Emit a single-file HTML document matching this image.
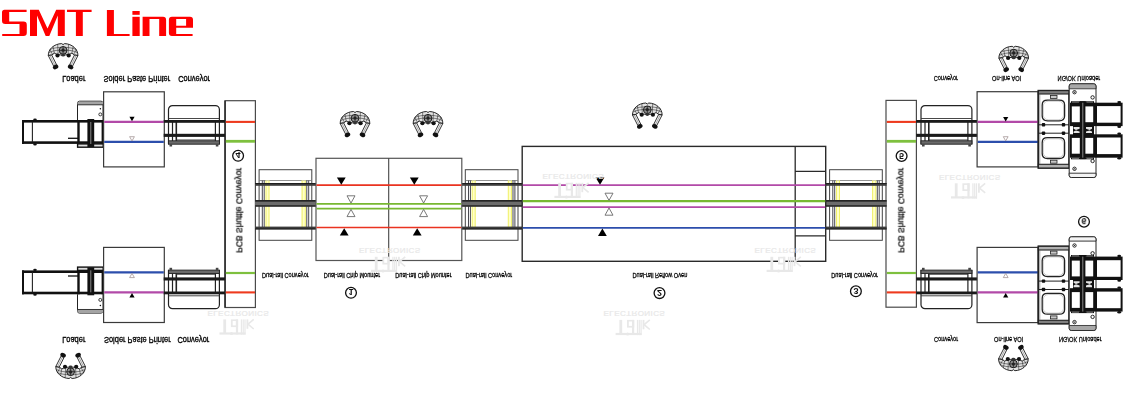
<!DOCTYPE html>
<html><head><meta charset="utf-8"><title>SMT Line</title>
<style>
html,body{margin:0;padding:0;background:#fff;}
body{width:1147px;height:400px;overflow:hidden;font-family:"Liberation Sans",sans-serif;}
svg{display:block;}
text{font-family:"Liberation Sans",sans-serif;}
</style></head><body>
<svg width="1147" height="400" viewBox="0 0 1147 400">
<defs>
<!-- operator, origin = top centre, arms pointing down -->
<g id="op">
  <path d="M-14.8,12 C-15,5.5 -9,0.3 -1.5,0 L0,1 L1.5,0 C9,0.3 15,5.5 14.8,12 L11.4,11.4 L8.8,9.6 C6.5,10.800 4,11.4 0,11.4 C-4,11.4 -6.500,10.8 -8.8,9.6 L-11.4,11.4 Z" fill="#e2e2e2" stroke="#111" stroke-width="0.9"/>
  <path d="M-10,3 L-8.8,9.600 M10,3 L8.8,9.6 M-5.4,0.9 L-5,10.6 M5.4,0.9 L5,10.6 M-13.2,6 L-10.4,11 M13.2,6 L10.4,11 M-13.200,6 C-8,3 8,3 13.2,6 M-14,9 C-9,5.5 9,5.5 14,9" stroke="#222" stroke-width="0.55" fill="none"/>
  <path d="M-14.8,12 L-11.4,11.4 L-6.600,21 L-9.4,22.6 Z" fill="#f6f6f6" stroke="#111" stroke-width="0.85"/>
  <path d="M14.8,12 L11.4,11.4 L6.6,21 L9.4,22.6 Z" fill="#f6f6f6" stroke="#111" stroke-width="0.85"/>
  <path d="M-13.1,11.7 L-8,21.800 M13.1,11.7 L8,21.8" stroke="#333" stroke-width="0.4"/>
  <ellipse cx="-7.5" cy="23.4" rx="2.9" ry="2.1" fill="#111" transform="rotate(-28 -7.5 23.4)"/>
  <ellipse cx="7.5" cy="23.4" rx="2.9" ry="2.1" fill="#111" transform="rotate(28 7.5 23.4)"/>
  <circle cx="0" cy="6.8" r="3.9" fill="#8e8e8e" stroke="#111" stroke-width="0.9"/>
  <path d="M0,3 V10.700 M-3.9,6.8 H3.9" stroke="#111" stroke-width="0.7"/>
  <circle cx="0" cy="6.6" r="1.6" fill="#222"/>
  <ellipse cx="-5.6" cy="11.8" rx="2.1" ry="2" fill="#111"/>
  <ellipse cx="5.6" cy="11.800" rx="2.1" ry="2" fill="#111"/>
  <ellipse cx="0" cy="11.6" rx="1.9" ry="1.3" fill="#333"/>
</g>

<!-- single conveyor: origin x=left of outer frame, y coordinates absolute for top copy -->
<g id="conv">
  <path d="M0,144.3 V109.6 a4,4 0 0 1 4,-4 H46.9 a4,4 0 0 1 4,4 V144.3" fill="none" stroke="#222" stroke-width="1.2"/>
  <path d="M0,118.5 H50.9" stroke="#333" stroke-width="0.9"/>
  <path d="M4,122 V141 M46.9,122 V141" stroke="#222" stroke-width="1.2"/>
  <path d="M7.8,122 V141" stroke="#222" stroke-width="1.6"/>
  <path d="M7.8,139.9 H47" stroke="#333" stroke-width="0.8"/>
  <rect x="-4.8" y="120" width="61.3" height="2.8" fill="#1a1a1a"/>
  <rect x="-4.8" y="133.8" width="61.3" height="3.1" fill="#1a1a1a"/>
  <rect x="0" y="140.8" width="50.9" height="3.4" fill="#6a6a6a" stroke="#222" stroke-width="0.9"/>
  <rect x="1" y="144.2" width="2.6" height="2.3" fill="#444"/>
  <rect x="47.3" y="144.2" width="2.6" height="2.3" fill="#444"/>
</g>

<!-- dual rail conveyor: origin x = left of outer rect -->
<g id="dconv">
  <rect x="0" y="169.7" width="52.7" height="70.6" fill="#fff" stroke="#444" stroke-width="1"/>
  <path d="M0,180.5 H52.7" stroke="#777" stroke-width="0.8"/>
  <rect x="6.5" y="180.5" width="3.8" height="48" fill="#ffffc8"/><path d="M6.9,180.500 V228.5 M9.9,180.5 V228.5" stroke="#eeee60" stroke-width="0.9"/>
  <rect x="42.6" y="180.5" width="4" height="48" fill="#ffffc8"/><path d="M43,180.500 V228.5 M46.2,180.5 V228.5" stroke="#eeee60" stroke-width="0.9"/>
  <path d="M3.2,180.5 V229 M5.1,180.5 V229 M47.7,180.5 V229 M49.6,180.5 V229" stroke="#484850" stroke-width="1"/>
  <rect x="-4" y="183.100" width="61" height="2.7" fill="#3c3c3c"/><rect x="-4" y="183.1" width="61" height="0.9" fill="#1a1a1a"/>
  <rect x="-4" y="200.1" width="61" height="6.5" fill="#6c6c6c"/><rect x="-4" y="200.100" width="61" height="1.5" fill="#1c1c1c"/><rect x="-4" y="205.3" width="61" height="1.3" fill="#1c1c1c"/>
  <rect x="-4" y="226.600" width="61" height="2.8" fill="#3c3c3c"/><rect x="-4" y="228.5" width="61" height="0.9" fill="#1a1a1a"/>
</g>

<!-- loader (top copy absolute coords) -->
<g id="loader">
  <path d="M77.5,120 V103.2 a2,2 0 0 1 2,-2 H101 a2,2 0 0 1 2,2 V120" fill="#fff" stroke="#222" stroke-width="1"/>
  <rect x="77.5" y="101.700" width="25.5" height="3.1" fill="#a4a4a4"/><path d="M77.5,104.8 H103" stroke="#222" stroke-width="0.9"/>
  <circle cx="100.4" cy="108.7" r="0.75" fill="#111"/>
  <circle cx="100.3" cy="114.4" r="1.5" fill="#fff" stroke="#111" stroke-width="0.8"/>
  <rect x="22" y="120" width="82" height="2.6" fill="#111"/>
  <rect x="22" y="141.3" width="82" height="2.6" fill="#111"/>
  <rect x="22" y="120" width="2" height="23.9" fill="#111"/>
  <path d="M32.4,122 V142" stroke="#222" stroke-width="1.1"/>
  <ellipse cx="35" cy="119.6" rx="1.8" ry="1.1" fill="#111"/>
  <ellipse cx="35" cy="144.4" rx="1.8" ry="1.1" fill="#111"/>
  <path d="M68,138.3 H78" stroke="#111" stroke-width="1.3"/>
  <rect x="77.3" y="120" width="2.4" height="27" fill="#111"/>
  <rect x="101.6" y="120" width="1.6" height="27" fill="#111"/>
  <rect x="77.6" y="143.9" width="25.600" height="3.3" fill="#ddd" stroke="#111" stroke-width="1.4"/>
  <rect x="87.4" y="119" width="6.8" height="28" fill="#111"/>
  <path d="M90.8,122 V144" stroke="#bbb" stroke-width="0.7"/>
    </g>

<!-- small triangles -->
<path id="tb" d="M-2.6,-4.5 H2.6 L0,0 Z" fill="#000"/>
<path id="tw" d="M-2.4,-4.5 H2.4 L0,-0.3 Z" fill="#fff" stroke="#988" stroke-width="0.7"/>
<path id="TB" d="M-4.4,-7.200 H4.4 L0,0.2 Z" fill="#000"/>
<path id="TW" d="M-4,-7.600 H4 L0,-0.4 Z" fill="#fff" stroke="#6a6a6a" stroke-width="0.9"/>

<!-- watermark (already flipped), origin = left of ELECTRONICS text, top of text -->
<g id="wm" fill="#e8e8e8" stroke="none" opacity="0.999">
  <text transform="translate(0,0) scale(1.12,-1)" font-size="7.2" letter-spacing="0.35" stroke="#e8e8e8" stroke-width="0.2" x="0" y="0">ELECTRONICS</text>
  <rect x="12" y="21.8" width="26" height="2.2"/>
  <rect x="15.8" y="8.8" width="2.8" height="14"/>
  <rect x="23.4" y="8.8" width="7.2" height="7.7" />
  <rect x="25.2" y="10.4" width="3.2" height="4.4" fill="#fff"/>
  <rect x="28.4" y="8.8" width="2.2" height="15"/>
  <circle cx="24" cy="23" r="1.5"/>
  <rect x="33.3" y="8.8" width="1.2" height="15.2"/>
  <rect x="35.1" y="8.8" width="1.2" height="15.2"/>
  <rect x="36.9" y="8.8" width="1.2" height="15.2"/>
  <rect x="39" y="8.8" width="1.8" height="9.4"/>
  <path d="M40.5,13.6 L46.2,8.8 M40.5,13.6 L46.2,18.4" stroke="#e8e8e8" stroke-width="1.6" fill="none"/>
</g>
</defs>

<rect width="1147" height="400" fill="#fff"/>

<!-- TITLE -->
<g id="title" fill="#ff0000">
  <!-- S -->
  <path d="M4.5,9.8 H26.6 V11.9 H9.2 V21.6 H23.5 Q26.8,21.6 26.8,24.9 V32.7 Q26.8,36 23.5,36 H2.2 V34 H19.5 V24 H5.3 Q2,24 2,20.7 V12.3 Q2,9.8 4.5,9.8 Z"/>
  <!-- M -->
  <path d="M30,36 V9.8 H38.8 L47.5,28.5 L56.2,9.8 H64.8 V36 H57.8 V15.5 L49.3,36 H45.7 L37,15.5 V36 Z"/>
  <!-- T -->
  <path d="M67,9.8 H91.6 V12 H82.8 V36 H75.9 V12 H67 Z"/>
  <!-- L -->
  <path d="M106.9,10 H113.9 V34 H129.6 V36 H106.9 Z"/>
  <!-- i -->
  <rect x="132.4" y="11" width="7.3" height="3.8"/>
  <rect x="132.4" y="16.8" width="7.3" height="19.2"/>
  <!-- n -->
  <path d="M142.6,16.8 H163 Q166.1,16.8 166.1,20 V36 H159.2 V18.9 H149.5 V36 H142.6 Z"/>
  <!-- e -->
  <path d="M172,16.8 H190 Q193,16.8 193,19.8 V27.7 H176.2 V34 H192.6 V36 H172 Q168.9,36 168.9,33 V19.8 Q168.9,16.8 172,16.8 Z M176.2,18.9 V25.7 H186.1 V18.9 Z"/>
</g>

<!-- ============ MAIN DIAGRAM ============ -->
<g id="main">
<!-- PCB shuttle conveyors -->
<rect x="225" y="100.7" width="30.4" height="206.8" fill="#fff" stroke="#4a4a4a" stroke-width="1.2"/>
<rect x="886" y="100.4" width="30.4" height="206.8" fill="#fff" stroke="#4a4a4a" stroke-width="1.2"/>
<path d="M225.1,100.7 V307.5" stroke="#2a2a2a" stroke-width="1.5"/>
<g stroke-width="2.1" stroke="#ee3a1e">
<path d="M225.8,121.9 H255"/><path d="M225.8,292.4 H255"/><path d="M886.8,121.9 H916"/><path d="M886.8,292.4 H916"/>
</g>
<g stroke-width="2.8" stroke="#7ec03e">
<path d="M225.8,141.3 H255"/><path d="M886.8,141.3 H916"/>
</g>
<g stroke-width="2.2" stroke="#7ec03e">
<path d="M225.8,273 H255"/><path d="M886.8,273 H916"/>
</g>

<!-- TOP-LEFT and BOTTOM-LEFT groups -->
<g id="leftTop">
  <use href="#loader"/>
  <rect x="103.6" y="91.8" width="60.7" height="75.1" fill="#fff" stroke="#3a3a3a" stroke-width="1.2"/>
  <path d="M104.2,121.9 H163.800" stroke="#b24aa8" stroke-width="2.1"/>
  <path d="M104.2,141.9 H163.8" stroke="#2c4eac" stroke-width="2.1"/>
  <use href="#tb" x="132" y="121.3"/>
  <use href="#tw" x="132" y="141.2"/>
  <use href="#conv" x="168.5"/>
</g>
<use href="#leftTop" transform="translate(0,414.3) scale(1,-1)"/>

<!-- TOP-RIGHT and BOTTOM-RIGHT groups -->
<g id="rightTop">
  <use href="#conv" x="921"/>
  <rect x="977.1" y="91.700" width="61" height="75.2" fill="#fff" stroke="#3a3a3a" stroke-width="1.2"/>
  <path d="M977.7,121.9 H1038" stroke="#b24aa8" stroke-width="2.1"/>
  <path d="M977.7,141.9 H1038" stroke="#2c4eac" stroke-width="2.1"/>
  <use href="#tb" x="1005.7" y="121.4"/>
  <use href="#tw" x="1005.7" y="141.2"/>
  <g id="unl">
    <!-- left grey box -->
    <rect x="1038.3" y="90.6" width="30.7" height="77.4" fill="#fff" stroke="#222" stroke-width="1.6"/>
    <rect x="1038.4" y="90.6" width="30.6" height="3.4" fill="#808080" stroke="#222" stroke-width="1.1"/>
    <rect x="1038.4" y="164.3" width="30.6" height="3.7" fill="#b0b0b0" stroke="#222" stroke-width="1.1"/>
    <path d="M1039.8,93.5 V164.3" stroke="#666" stroke-width="0.6"/>
    <rect x="1050.4" y="95.4" width="6.6" height="3" fill="#c8c8c8" stroke="#222" stroke-width="0.8"/>
    <rect x="1050.4" y="160.2" width="6.6" height="3" fill="#c8c8c8" stroke="#222" stroke-width="0.8"/>
    <path d="M1042.2,104.9 C1042.2,102.4 1044.0,100.1 1047.5,100.1 H1059.3 C1062.8,100.1 1064.6,102.4 1064.6,104.9 V116.1 C1064.6,118.6 1062.8,120.9 1059.3,120.9 H1047.5 C1044.0,120.9 1042.2,118.6 1042.2,116.1 Z" fill="#fff" stroke="#222" stroke-width="1.3"/>
    <path d="M1043.3,106.0 C1043.3,103.5 1045.1,101.2 1048.6,101.2 H1058.2 C1061.7,101.2 1063.5,103.5 1063.5,106.0 V115.0 C1063.5,117.5 1061.7,119.8 1058.2,119.8 H1048.6 C1045.1,119.8 1043.3,117.5 1043.3,115.0 Z" fill="none" stroke="#9a9a9a" stroke-width="0.5"/>
    <path d="M1042.2,142.5 C1042.2,140.0 1044.0,137.7 1047.5,137.7 H1059.3 C1062.8,137.7 1064.6,140.0 1064.6,142.5 V153.7 C1064.6,156.2 1062.8,158.5 1059.3,158.5 H1047.5 C1044.0,158.5 1042.2,156.2 1042.2,153.7 Z" fill="#fff" stroke="#222" stroke-width="1.3"/>
    <path d="M1043.3,143.6 C1043.3,141.1 1045.1,138.8 1048.6,138.8 H1058.2 C1061.7,138.8 1063.5,141.1 1063.5,143.6 V152.6 C1063.5,155.1 1061.7,157.4 1058.2,157.4 H1048.6 C1045.1,157.4 1043.3,155.1 1043.3,152.6 Z" fill="none" stroke="#9a9a9a" stroke-width="0.5"/>
    <path d="M1038.4,124.8 H1069 M1038.4,133.2 H1069" stroke="#222" stroke-width="1"/>
    <rect x="1041.8" y="123.100" width="3.4" height="3.4" rx="0.8" fill="#111"/>
    <rect x="1061.800" y="123.1" width="3.4" height="3.4" rx="0.8" fill="#111"/>
    <rect x="1041.8" y="131.500" width="3.4" height="3.4" rx="0.8" fill="#111"/>
    <rect x="1061.8" y="131.5" width="3.400" height="3.4" rx="0.8" fill="#111"/>
    <!-- right column -->
    <rect x="1069.2" y="83.8" width="26.8" height="93.7" rx="2.2" fill="#fff" stroke="#222" stroke-width="1"/>
    <path d="M1069.2,88.8 V86 a2.2,2.2 0 0 1 2.2,-2.2 H1093.800 a2.2,2.2 0 0 1 2.2,2.2 V88.8 Z" fill="#a8a8a8" stroke="#222" stroke-width="0.8"/>
    <path d="M1069.2,173.2 V175.3 a2.2,2.2 0 0 0 2.2,2.2 H1093.800 a2.2,2.2 0 0 0 2.2,-2.2 V173.2 Z" fill="#f4f4f4" stroke="#222" stroke-width="0.9"/>
    <circle cx="1074.5" cy="92.2" r="1.7" fill="#fff" stroke="#111" stroke-width="0.9"/><circle cx="1074.5" cy="92.2" r="0.6" fill="#111"/>
    <circle cx="1092.6" cy="97.4" r="1.7" fill="#fff" stroke="#111" stroke-width="0.9"/>
    <circle cx="1074.5" cy="168.8" r="1.700" fill="#fff" stroke="#111" stroke-width="0.9"/><circle cx="1074.5" cy="168.8" r="0.6" fill="#111"/>
    <circle cx="1092.6" cy="161" r="1.700" fill="#fff" stroke="#111" stroke-width="0.9"/>
    <!-- black frames -->
    <g transform="translate(0,0.7)">
    <g fill="#111">
      <rect x="1070" y="102" width="52.6" height="23.4"/>
      <rect x="1070" y="133.6" width="52.6" height="23.4"/>
      <rect x="1080" y="100.6" width="5.6" height="57.8"/>
      <rect x="1071" y="100.500" width="23" height="1.8"/>
      <rect x="1071" y="156.8" width="23" height="1.8"/>
      <rect x="1073" y="124" width="21" height="10.5"/>
      <ellipse cx="1119.2" cy="101.4" rx="1.9" ry="1.2"/><ellipse cx="1119.2" cy="126" rx="1.9" ry="1.2"/>
      <ellipse cx="1119.2" cy="133" rx="1.9" ry="1.2"/><ellipse cx="1119.2" cy="157.600" rx="1.9" ry="1.2"/>
    </g>
    <g fill="#fff">
      <rect x="1071.8" y="105.700" width="8" height="15.8"/><rect x="1085.4" y="105.7" width="7.8" height="15.8"/>
      <rect x="1097" y="105.4" width="23.6" height="16.6"/>
      <rect x="1071.8" y="137.2" width="8" height="15.8"/><rect x="1085.4" y="137.2" width="7.8" height="15.8"/>
      <rect x="1097" y="136.8" width="23.6" height="16.6"/>
      <path d="M1073.6,126.400 H1079.6 V128 L1076,129.3 L1073.600,128 Z M1073.6,132.4 H1079.6 V130.8 L1076,129.7 L1073.6,130.8 Z" fill="#e4e4e4"/>
      <path d="M1086,126.4 H1092 V128 L1089.600,129.3 L1086,128 Z M1086,132.4 H1092 V130.800 L1089.6,129.7 L1086,130.8 Z" fill="#e4e4e4"/>
    </g>
    <path d="M1082.8,102 V157" stroke="#bbb" stroke-width="0.7"/>
    <path d="M1072,101.400 H1079 M1086.500,101.4 H1093 M1072,157.7 H1079 M1086.5,157.7 H1093" stroke="#aaa" stroke-width="0.7"/>
    </g>
  </g>
</g>
<use href="#rightTop" transform="translate(0,414.3) scale(1,-1)"/>

<!-- Dual-rail conveyors -->
<use href="#dconv" x="259.1"/>
<use href="#dconv" x="465.3"/>
<use href="#dconv" x="829.6"/>

<!-- Chip mounters -->
<rect x="316" y="158.3" width="145.8" height="102.2" fill="#fff" stroke="#555" stroke-width="1.2"/>
<path d="M388.7,158.3 V260.5" stroke="#444" stroke-width="1.1"/>
<path d="M316.5,185.2 H461.3 M316.5,227.5 H461.3" stroke="#ea3320" stroke-width="1.7"/>
<path d="M316.5,203.9 H461.3 M316.5,208.7 H461.3" stroke="#78b832" stroke-width="1.8"/>
<use href="#TB" x="341.3" y="184.6"/><use href="#TB" x="414.3" y="184.6"/>
<use href="#TW" x="351" y="203.4"/><use href="#TW" x="423.600" y="203.4"/>
<use href="#TW" x="351" y="-209" transform="scale(1,-1)"/><use href="#TW" x="423.6" y="-209" transform="scale(1,-1)"/>
<use href="#TB" x="344.2" y="-228.4" transform="scale(1,-1)"/><use href="#TB" x="417.2" y="-228.4" transform="scale(1,-1)"/>

<!-- Reflow oven -->
<rect x="522.2" y="146.4" width="303.5" height="114.9" fill="#fff" stroke="#2a2a2a" stroke-width="1.4"/>
<path d="M795.2,146.4 V261.3 M795.2,171.4 H825.7 M795.2,235.8 H825.7" stroke="#2a2a2a" stroke-width="1.3"/>
<path d="M522.8,185.1 H825.2 M522.8,207.1 H825.2" stroke="#b24aa8" stroke-width="1.6"/>
<path d="M522.8,201.100 H825.2" stroke="#78b832" stroke-width="2.1"/>
<path d="M522.8,227.9 H825.2" stroke="#2c4eac" stroke-width="1.7"/>
<use href="#TB" x="600" y="184.6"/>
<use href="#TW" x="609" y="200.8"/>
<use href="#TW" x="609" y="-207.6" transform="scale(1,-1)"/>
<use href="#TB" x="602.4" y="-228.8" transform="scale(1,-1)"/>

<!-- operators -->
<use href="#op" x="63.1" y="43.6"/>
<use href="#op" x="355" y="111.5"/>
<use href="#op" x="428" y="111.5"/>
<use href="#op" x="647.3" y="103"/>
<use href="#op" x="1013.7" y="46.3"/>
<use href="#op" x="70.6" y="-378.5" transform="scale(1,-1)"/>
<use href="#op" x="1013.4" y="-370.700" transform="scale(1,-1)"/>

<!-- watermarks -->
<use href="#wm" x="359" y="248"/>
<use href="#wm" x="542.4" y="174"/>
<use href="#wm" x="754.6" y="248"/>
<use href="#wm" x="939" y="174.500"/>
<use href="#wm" x="207.5" y="310.600"/>
<use href="#wm" x="603.6" y="311.1"/>

<!-- labels (vertically flipped) -->
<g fill="#000" font-size="7.45" stroke="#000" stroke-width="0.28" opacity="0.999">
  <text transform="translate(62.2,76) scale(1,-1.26)">Loader</text>
  <text transform="translate(103.6,76) scale(1,-1.26)">Solder Paste Printer</text>
  <text transform="translate(178.2,76) scale(1,-1.26)">Conveyor</text>
  <text transform="translate(62.2,337) scale(1,-1.26)">Loader</text>
  <text transform="translate(104,337) scale(1,-1.26)">Solder Paste Printer</text>
  <text transform="translate(177.4,337) scale(1,-1.26)">Conveyor</text>
</g>
<g fill="#000" font-size="5.65" stroke="#000" stroke-width="0.22" opacity="0.999">
  <text transform="translate(262,272.9) scale(1,-1.25)">Dual-rail Conveyor</text>
  <text transform="translate(323.7,272.9) scale(1,-1.25)">Dual-rail Chip Mounter</text>
  <text transform="translate(395.2,272.9) scale(1,-1.25)">Dual-rail Chip Mounter</text>
  <text transform="translate(465.5,272.9) scale(1,-1.25)">Dual-rail Conveyor</text>
  <text transform="translate(632.5,272.9) scale(1,-1.25)">Dual-rail Reflow Oven</text>
  <text transform="translate(831.3,272.9) scale(1,-1.25)">Dual-rail Conveyor</text>
  <text transform="translate(933.8,75.7) scale(1,-1.25)">Conveyor</text>
  <text transform="translate(992,75.7) scale(1,-1.25)">On-line AOI</text>
  <text transform="translate(1057.6,75.7) scale(1,-1.25)">NG/OK Unloader</text>
  <text transform="translate(934,336.8) scale(1,-1.25)">Conveyor</text>
  <text transform="translate(994,336.8) scale(1,-1.25)">On-line AOI</text>
  <text transform="translate(1059,336.8) scale(1,-1.25)">NG/OK Unloader</text>
</g>
<g fill="#000" font-size="8.5" stroke="#000" stroke-width="0.25" opacity="0.999">
  <text transform="translate(236.4,252.8) scale(-1,1) rotate(-90)" >PCB Shuttle Conveyor</text>
  <text transform="translate(898.4,252.8) scale(-1,1) rotate(-90)" >PCB Shuttle Conveyor</text>
</g>

<!-- circled numbers (flipped) -->
<g fill="none" stroke="#111" stroke-width="1.3">
  <circle cx="351" cy="292.8" r="5.4"/><circle cx="659.5" cy="293.1" r="5.4"/><circle cx="855.9" cy="291.3" r="5.4"/>
  <circle cx="238.1" cy="155.8" r="5.4"/><circle cx="901.6" cy="156" r="5.4"/><circle cx="1084" cy="221.7" r="5.4"/>
</g>
<g fill="#111" font-size="9.8" font-weight="bold" text-anchor="middle" opacity="0.999">
  <text transform="translate(351,289.3) scale(0.92,-1)">1</text>
  <text transform="translate(659.5,289.6) scale(0.92,-1)">2</text>
  <text transform="translate(855.9,287.8) scale(0.92,-1)">3</text>
  <text transform="translate(238.1,152.3) scale(0.92,-1)">4</text>
  <text transform="translate(901.6,152.5) scale(0.92,-1)">5</text>
  <text transform="translate(1084,218.2) scale(0.92,-1)">6</text>
</g>
</g>
</svg>
</body></html>
